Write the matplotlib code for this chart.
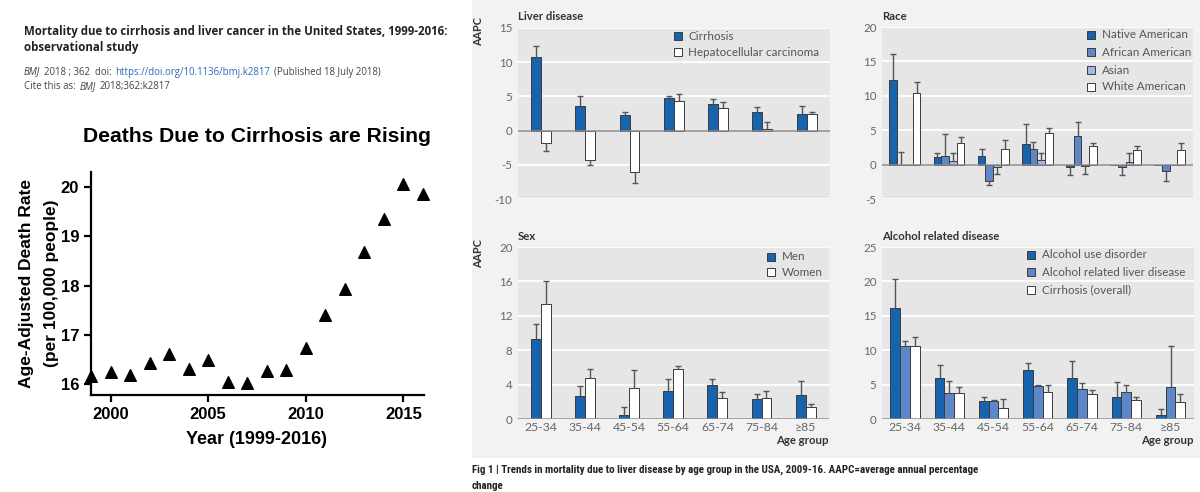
import matplotlib
matplotlib.use('Agg')
import matplotlib.pyplot as plt
import numpy as np
from matplotlib.patches import Rectangle
from matplotlib import font_manager

# ---------------- data ----------------
years = list(range(1999, 2017))
death_rate = [16.16, 16.25, 16.18, 16.43, 16.62, 16.31, 16.50, 16.04, 16.03,
              16.26, 16.28, 16.74, 17.40, 17.93, 18.68, 19.35, 20.06, 19.86]

age_groups = ['25-34', '35-44', '45-54', '55-64', '65-74', '75-84', '≥85']

# Liver disease
cirrhosis = [10.7, 3.6, 2.3, 4.8, 3.9, 2.75, 2.5]
cirrhosis_ci = [12.3, 5.1, 2.75, 5.0, 4.6, 3.5, 3.6]
hcc = [-1.8, -4.25, -6.1, 4.3, 3.3, 0.3, 2.4]
hcc_ci = [-3.0, -5.0, -7.6, 5.4, 4.25, 1.3, 2.75]

# Race
native = [12.3, 1.15, 1.3, 2.95, -0.35, 0, 0]
native_ci = [16.1, 1.75, 2.2, 5.85, -1.55, np.nan, np.nan]
african = [0, 1.3, -2.45, 2.2, 4.15, -0.35, -0.95]
african_ci = [1.8, 4.4, -3.0, 3.25, 6.2, -1.45, -2.4]
asian = [0, 0.55, -0.3, 0.7, -0.2, 0.4, 0]
asian_ci = [np.nan, 1.65, -1.35, 1.65, -1.3, 1.75, np.nan]
white = [10.4, 3.1, 2.25, 4.6, 2.65, 2.1, 2.1]
white_ci = [12.0, 4.05, 3.6, 5.25, 3.2, 2.7, 3.15]

# Sex
men = [9.36, 2.7, 0.43, 3.25, 3.95, 2.36, 2.8]
men_ci = [11.0, 3.87, 1.43, 4.6, 4.7, 2.86, 4.4]
women = [13.35, 4.8, 3.56, 5.8, 2.4, 2.5, 1.4]
women_ci = [16.0, 5.8, 5.7, 6.2, 3.1, 3.3, 1.8]

# Alcohol related disease
aud = [16.2, 5.9, 2.6, 7.1, 5.9, 3.15, 0.6]
aud_ci = [20.3, 7.9, 3.25, 8.2, 8.4, 5.4, 1.45]
arld = [10.6, 3.8, 2.6, 4.85, 4.35, 3.9, 4.7]
arld_ci = [11.4, 5.5, 2.75, 4.9, 5.3, 4.9, 10.6]
cirr_overall = [10.65, 3.8, 1.65, 3.95, 3.6, 2.75, 2.5]
cirr_overall_ci = [11.9, 4.7, 2.85, 4.9, 4.2, 3.15, 3.6]

# ---------------- style ----------------
names = {f.name for f in font_manager.fontManager.ttflist}
ARIAL = 'Liberation Sans'
PANEL = 'Lato' if 'Lato' in names else 'DejaVu Sans'
HEAD = 'Open Sans' if 'Open Sans' in names else 'DejaVu Sans'
CAP = PANEL
for cand in ['Liberation Sans Narrow', 'Roboto Condensed', 'Open Sans Condensed']:
    if cand in names:
        CAP = cand
        break

BLUE = '#1763ad'
MBLUE = '#5d87c8'
LBLUE = '#a4b9e2'
WHITE = '#ffffff'
EDGE = '#3a3a3a'
TICKC = '#666666'
DARK = '#333333'

W, H = 1200, 492
fig = plt.figure(figsize=(12, 4.92), dpi=100)
renderer = fig.canvas.get_renderer()


def px_axes(l, t, r, b):
    return fig.add_axes([l / W, 1 - b / H, (r - l) / W, (b - t) / H])


def ftext(x, y, s, **kw):
    return fig.text(x / W, 1 - y / H, s, **kw)


def chain(x, y, pieces, gap=3.5, **kw):
    """Write text pieces one after another on a line."""
    for s, extra in pieces:
        opts = dict(kw)
        opts.update(extra)
        t = ftext(x, y, s, **opts)
        bb = t.get_window_extent(renderer=renderer)
        x = bb.x1 + gap


# ---------------- header text ----------------
HS = 8.3
SS = 6.9
ftext(24, 32, 'Mortality due to cirrhosis and liver cancer in the United States, 1999-2016:',
      family=HEAD, weight='bold', fontsize=HS, color='#222222', va='center')
ftext(24, 48, 'observational study', family=HEAD, weight='bold', fontsize=HS,
      color='#222222', va='center')
sub = dict(family=HEAD, fontsize=SS, color='#444444', va='center')
chain(24, 72, [('BMJ', {'style': 'italic'}), ('2018 ; 362  doi:', {}),
               ('https://doi.org/10.1136/bmj.k2817', {'color': '#2a6ab8'}),
               ('(Published 18 July 2018)', {})], **sub)
chain(24, 87, [('Cite this as:', {}), ('BMJ', {'style': 'italic'}),
               ('2018;362:k2817', {})], **sub)

# ---------------- left scatter ----------------
ax0 = px_axes(91, 172, 424, 395)
ax0.scatter(years, death_rate, marker='^', s=70, color='black', zorder=3, clip_on=False)
ax0.set_xlim(1999, 2016.05)
ax0.set_ylim(15.78, 20.31)
ax0.set_xticks([2000, 2005, 2010, 2015])
ax0.set_yticks([16, 17, 18, 19, 20])
for s in ['top', 'right']:
    ax0.spines[s].set_visible(False)
for s in ['left', 'bottom']:
    ax0.spines[s].set_linewidth(1.6)
ax0.tick_params(width=1.6, length=5, labelsize=12)
for lab in ax0.get_xticklabels() + ax0.get_yticklabels():
    lab.set_family(ARIAL)
    lab.set_weight('bold')
ftext(257, 137, 'Deaths Due to Cirrhosis are Rising', family=ARIAL, weight='bold',
      fontsize=15.2, ha='center', va='center')
ftext(257, 440, 'Year (1999-2016)', family=ARIAL, weight='bold', fontsize=13,
      ha='center', va='center')
ftext(27, 284, 'Age-Adjusted Death Rate', family=ARIAL, weight='bold', fontsize=12.5,
      ha='center', va='center', rotation=90)
ftext(52, 283, '(per 100,000 people)', family=ARIAL, weight='bold', fontsize=12.5,
      ha='center', va='center', rotation=90)

# ---------------- right background ----------------
fig.patches.append(Rectangle((472 / W, 1 - 458 / H), (W - 472) / W, 458 / H,
                             transform=fig.transFigure, facecolor='#f2f2f2',
                             edgecolor='none', zorder=-5))

x = np.arange(len(age_groups))


def panel(rect, ylim, yticks, series, width, show_x):
    ax = px_axes(*rect)
    ax.set_facecolor('#e6e6e6')
    n = len(series)
    for i, (vals, ci, col) in enumerate(series):
        vals = np.asarray(vals, float)
        ci = np.asarray(ci, float)
        xs = x + (i - (n - 1) / 2) * width
        ax.bar(xs, vals, width=width, color=col, edgecolor=EDGE, linewidth=0.7, zorder=3)
        m = ~np.isnan(ci)
        ax.vlines(xs[m], vals[m], ci[m], color='#555555', lw=1.0, zorder=4)
        ax.plot(xs[m], ci[m], ls='none', marker='_', ms=5, mew=1.0, color='#555555', zorder=4)
    ax.set_xlim(-0.52, 6.53)
    ax.set_ylim(*ylim)
    ax.set_yticks(yticks)
    ax.set_yticklabels([str(t) for t in yticks])
    ax.yaxis.grid(True, color='white', lw=1.3, zorder=1)
    ax.set_axisbelow(True)
    for s in ax.spines.values():
        s.set_visible(False)
    ax.axhline(0, color='#8a8a8a', lw=1.1, zorder=5)
    ax.set_xticks(x)
    if show_x:
        ax.set_xticklabels(age_groups)
    else:
        ax.set_xticklabels([])
    ax.tick_params(axis='both', length=0, labelsize=8.3, labelcolor=TICKC, pad=4)
    ax.tick_params(axis='x', pad=2.5, labelsize=8.8)
    for lab in ax.get_xticklabels() + ax.get_yticklabels():
        lab.set_family(PANEL)
    return ax


def legend(x0, ys, entries):
    for y, (label, col) in zip(ys, entries):
        fig.patches.append(Rectangle(((x0 - 4) / W, 1 - (y + 4) / H), 8 / W, 8 / H,
                                     transform=fig.transFigure, facecolor=col,
                                     edgecolor=EDGE, linewidth=0.7, zorder=5))
        ftext(x0 + 10.5, y, label, family=PANEL, fontsize=8.4, color='#555555', va='center')


# Liver disease
panel((518, 28, 830, 199), (-10, 15), [-10, -5, 0, 5, 10, 15],
      [(cirrhosis, cirrhosis_ci, BLUE), (hcc, hcc_ci, WHITE)], 0.225, False)
ftext(518, 16, 'Liver disease', family=PANEL, weight='bold', fontsize=8.2, color=DARK, va='center')
legend(678, [36, 52], [('Cirrhosis', BLUE), ('Hepatocellular carcinoma', WHITE)])

# Race
panel((882, 27, 1193, 199), (-5, 20), [-5, 0, 5, 10, 15, 20],
      [(native, native_ci, BLUE), (african, african_ci, MBLUE),
       (asian, asian_ci, LBLUE), (white, white_ci, WHITE)], 0.175, False)
ftext(882, 16, 'Race', family=PANEL, weight='bold', fontsize=8.2, color=DARK, va='center')
legend(1091, [35, 52, 70, 87], [('Native American', BLUE), ('African American', MBLUE),
                                ('Asian', LBLUE), ('White American', WHITE)])

# Sex
panel((518, 247, 829, 419), (0, 20), [0, 4, 8, 12, 16, 20],
      [(men, men_ci, BLUE), (women, women_ci, WHITE)], 0.225, True)
ftext(518, 236, 'Sex', family=PANEL, weight='bold', fontsize=8.2, color=DARK, va='center')
legend(771, [257, 272], [('Men', BLUE), ('Women', WHITE)])
ftext(829, 441, 'Age group', family=PANEL, weight='bold', fontsize=8.2, color=DARK,
      ha='right', va='center')

# Alcohol related disease
panel((882, 247, 1194, 419), (0, 25), [0, 5, 10, 15, 20, 25],
      [(aud, aud_ci, BLUE), (arld, arld_ci, MBLUE), (cirr_overall, cirr_overall_ci, WHITE)],
      0.22, True)
ftext(882, 236, 'Alcohol related disease', family=PANEL, weight='bold', fontsize=8.2,
      color=DARK, va='center')
legend(1031, [255, 272, 290], [('Alcohol use disorder', BLUE),
                               ('Alcohol related liver disease', MBLUE),
                               ('Cirrhosis (overall)', WHITE)])
ftext(1194, 441, 'Age group', family=PANEL, weight='bold', fontsize=8.2, color=DARK,
      ha='right', va='center')

# AAPC labels
ftext(479, 32, 'AAPC', family=PANEL, weight='bold', fontsize=7.8, color=DARK,
      ha='center', va='center', rotation=90)
ftext(479, 254, 'AAPC', family=PANEL, weight='bold', fontsize=7.8, color=DARK,
      ha='center', va='center', rotation=90)

# Caption
CS = 7.9
ftext(472, 470, 'Fig 1 | Trends in mortality due to liver disease by age group in the USA, '
      '2009-16. AAPC=average annual percentage', family=CAP, weight='bold', fontsize=CS,
      color='#222222', va='center')
ftext(472, 486, 'change', family=CAP, weight='bold', fontsize=CS, color='#222222', va='center')

fig.savefig('out.png', dpi=100)
